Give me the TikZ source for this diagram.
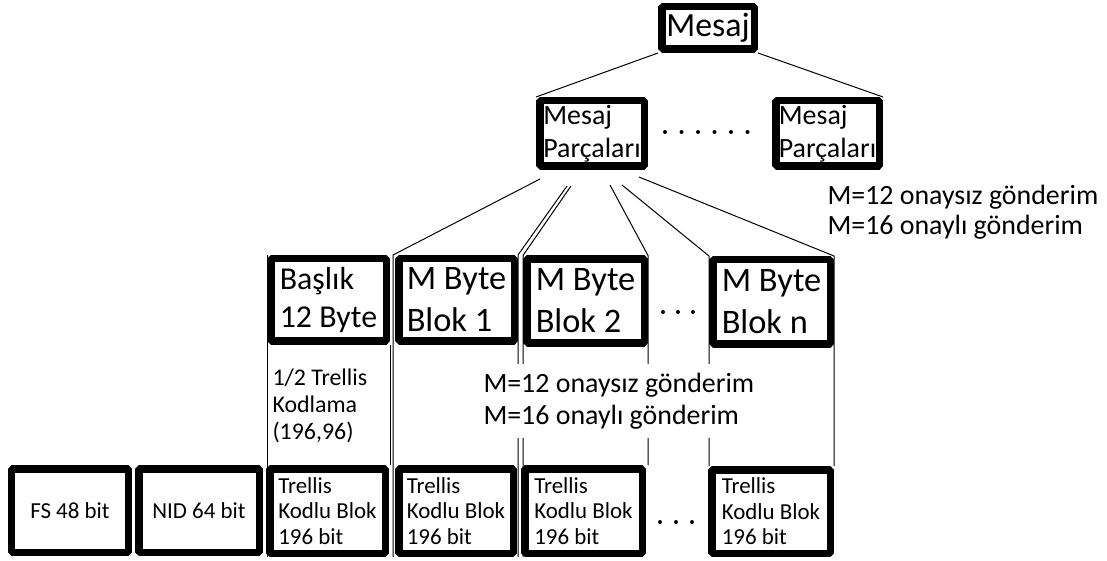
\documentclass[tikz,border=0pt]{standalone}
\usepackage{fontspec}
\setmainfont{Carlito}
\usepackage{tikz}

\begin{document}
\begin{tikzpicture}[x=1bp,y=-1bp,line join=bevel,
  kutu/.style={draw,line width=7.5bp,inner sep=0bp,align=left},
  ince/.style={line width=1bp},
  nokta/.style={fill=black}]
\pgfsetlinewidth{1bp}
\useasboundingbox (0,0) rectangle (1107,561);
%%
\node (mesaj) at (708,28) [kutu,minimum width=92.5bp,minimum height=42.5bp,font=\fontsize{34}{40}\selectfont] {Mesaj};
\node (parca1) at (592,133.5) [kutu,minimum width=104.5bp,minimum height=65.5bp,font=\fontsize{28}{33}\selectfont] {Mesaj\\Parçaları};
\node (parca2) at (827.5,133.5) [kutu,minimum width=103.5bp,minimum height=65.5bp,font=\fontsize{28}{33}\selectfont] {Mesaj\\Parçaları};
%% orta sira
\node (baslik) at (328.5,300) [kutu,minimum width=115.5bp,minimum height=82.5bp,font=\fontsize{32}{38}\selectfont] {Başlık\\12 Byte};
\node (blok1) at (456.5,300) [kutu,minimum width=115.5bp,minimum height=82.5bp,font=\fontsize{34.5}{42}\selectfont] {M Byte\\Blok 1};
\node (blok2) at (585.5,301) [kutu,minimum width=117.5bp,minimum height=83.5bp,font=\fontsize{34.5}{42}\selectfont] {M Byte\\Blok 2};
\node (blokn) at (771.5,302) [kutu,minimum width=117.5bp,minimum height=84.5bp,font=\fontsize{34.5}{42}\selectfont] {M Byte\\Blok n};
%% alt sira
\node (fs) at (70,510.5) [kutu,minimum width=116.5bp,minimum height=83.5bp,font=\fontsize{23}{27}\selectfont] {FS 48 bit};
\node (nid) at (199,510.5) [kutu,minimum width=120.5bp,minimum height=83.5bp,font=\fontsize{23}{27}\selectfont] {NID 64 bit};
\node (kod1) at (327.5,511) [kutu,minimum width=115.5bp,minimum height=84.5bp,font=\fontsize{23}{25.5}\selectfont] {Trellis\\Kodlu Blok\\196 bit};
\node (kod2) at (456,511) [kutu,minimum width=114.5bp,minimum height=84.5bp,font=\fontsize{23}{25.5}\selectfont] {Trellis\\Kodlu Blok\\196 bit};
\node (kod3) at (583.5,511) [kutu,minimum width=117.5bp,minimum height=84.5bp,font=\fontsize{23}{25.5}\selectfont] {Trellis\\Kodlu Blok\\196 bit};
\node (kodn) at (771,511.5) [kutu,minimum width=118.5bp,minimum height=83.5bp,font=\fontsize{23}{25.5}\selectfont] {Trellis\\Kodlu Blok\\196 bit};
%%
\coordinate (a1) at ([shift={(-52,9)}]parca1.south);
\coordinate (b1) at ([shift={(-25,16)}]parca1.south);
\coordinate (b2) at ([shift={(-21,16)}]parca1.south);
\coordinate (c1) at ([shift={(18,15)}]parca1.south);
\coordinate (d1) at ([shift={(30,15)}]parca1.south);
\coordinate (e1) at ([shift={(47,7)}]parca1.south);
%%
\draw [ince] (mesaj.south west) -- (parca1.north west);
\draw [ince] (mesaj.south east) -- (parca2.north east);
\draw [ince] (a1) -- ([xshift=-2]blok1.north west) -- ([xshift=-2]kod2.south west);
\draw [ince] (b1) -- (blok1.north east) -- (blok1.north east |- kod2.south);
\draw [ince] (b2) -- (blok2.north west) -- (blok2.north west |- kod3.south);
\draw [ince] (c1) -- (blok2.north east) -- (blok2.north east |- kod3.north);
\draw [ince] (d1) -- (blokn.north west) -- (blokn.north west |- kodn.north);
\draw [ince] (e1) -- (blokn.north east) -- (blokn.north east |- kodn.north);
\draw [ince] (baslik.north west) -- (baslik.north west |- kod1.south);
\draw [ince] (baslik.south east) -- (baslik.south east |- kod1.north);
%%
\foreach \i in {0,...,5}
  \fill [nokta] (665+16.5*\i,132) circle (2bp);
\foreach \i in {0,1,2}
  \fill [nokta] (663+15*\i,312) circle (2bp);
\foreach \i in {0,1,2}
  \fill [nokta] (660+16*\i,522) circle (2bp);
%%
\node (kodlama) at (272,406) [anchor=west,inner sep=0bp,align=left,font=\fontsize{24}{27}\selectfont] {1/2 Trellis\\Kodlama\\(196,96)};
\node (orta) at (480,401) [anchor=west,fill=white,inner xsep=3bp,inner ysep=9bp,align=left,font=\fontsize{28}{32}\selectfont] {M=12 onaysız gönderim\\M=16 onaylı gönderim};
\node (sag) at (827,212) [anchor=west,inner sep=0bp,align=left,font=\fontsize{28}{30}\selectfont] {M=12 onaysız gönderim\\M=16 onaylı gönderim};
%
\end{tikzpicture}
\end{document}
